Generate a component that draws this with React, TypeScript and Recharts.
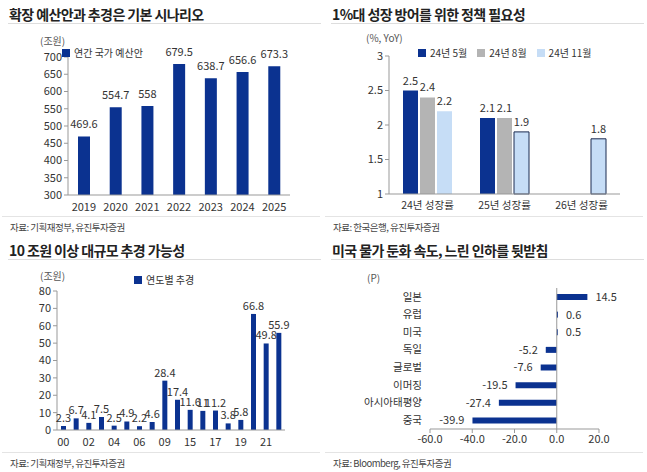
import React from 'react';
import { BarChart, Bar, XAxis, YAxis, Legend, LabelList, Cell, ReferenceLine } from 'recharts';

const NAVY = '#0b3290';
const GREY = '#b4b4b4';
const LIGHT = '#c6ddf6';
const TEXT = '#333';
const AXIS = '#999';
const FONT = "'Noto Sans CJK KR', 'Noto Sans', sans-serif";

// 확장 예산안
const budgetYears = ['2019', '2020', '2021', '2022', '2023', '2024', '2025'];
const budgetValues = [469.6, 554.7, 558, 679.5, 638.7, 656.6, 673.3];

// 성장률 전망
const growthCats = ['24년 성장률', '25년 성장률', '26년 성장률'];
const growthMay = [2.5, 2.1, null];
const growthAug = [2.4, 2.1, null];
const growthNov = [2.2, 1.9, 1.8];

// 연도별 추경
const supYears = ['00', '01', '02', '03', '04', '05', '06', '08', '09', '13', '15', '16', '17', '18', '19', '20', '21', '22'];
const supValues = [2.3, 6.7, 4.1, 7.5, 2.5, 4.9, 2.2, 4.6, 28.4, 17.4, 11.6, 11, 11.2, 3.8, 5.8, 66.8, 49.8, 55.9];

// 물가 둔화
const cpiRegions = ['일본', '유럽', '미국', '독일', '글로벌', '이머징', '아시아태평양', '중국'];
const cpiValues = [14.5, 0.6, 0.5, -5.2, -7.6, -19.5, -27.4, -39.9];

const budgetData = budgetYears.map((y, i) => ({ name: y, v: budgetValues[i] }));
const growthData = growthCats.map((c, i) => ({ name: c, may: growthMay[i], aug: growthAug[i], nov: growthNov[i] }));
const supData = supYears.map((y, i) => ({ name: y, v: supValues[i] }));
const cpiData = cpiRegions.map((r, i) => ({ name: r, v: cpiValues[i] }));

const seriesOrder = ['may', 'aug', 'nov'];

const tick = { fill: TEXT, fontSize: 11, fontFamily: FONT };
const korTick = { fill: TEXT, fontSize: 10.5, fontFamily: FONT };
const lbl = { fill: TEXT, fontSize: 11, fontFamily: FONT };

// legend on top eats this much of the plot, so take it back from margin.top
const LEG_H = 24;

const legendText = (v: string) => <span style={{ color: TEXT, fontSize: 10, fontFamily: FONT }}>{v}</span>;

const Panel = ({ x, y, title, source, unit, unitX, unitY }: any) => (
  <>
    <div style={{ position: 'absolute', left: x + 9, top: y + 4, fontSize: 14, fontWeight: 700, color: '#222', letterSpacing: -0.6, whiteSpace: 'nowrap' }}>
      {title}
    </div>
    <div style={{ position: 'absolute', left: x + 8, top: y + 23, width: 313, height: 1, background: '#ddd' }} />
    <div style={{ position: 'absolute', left: x + 2, top: y + 216, width: 318, height: 1, background: '#e4e4e4' }} />
    <div style={{ position: 'absolute', left: x + 10, top: y + 220, fontSize: 9.5, lineHeight: '14px', color: '#444', letterSpacing: -0.5, whiteSpace: 'nowrap' }}>
      {source}
    </div>
    <div style={{ position: 'absolute', left: x + unitX, top: y + unitY, fontSize: 10, lineHeight: '13px', color: '#555', whiteSpace: 'nowrap' }}>
      {unit}
    </div>
  </>
);

const Box = ({ x, y, children }: any) => (
  <div style={{ position: 'absolute', left: x, top: y }}>{children}</div>
);

export default function App() {
  return (
    <div style={{ position: 'absolute', top: 0, left: 0, width: 647, height: 472, background: '#fff', fontFamily: FONT, overflow: 'hidden' }}>
      <Panel x={0} y={0} title="확장 예산안과 추경은 기본 시나리오" source="자료: 기획재정부, 유진투자증권" unit="(조원)" unitX={40} unitY={34} />
      <Panel x={323} y={0} title="1%대 성장 방어를 위한 정책 필요성" source="자료: 한국은행, 유진투자증권" unit="(%, YoY)" unitX={43} unitY={31} />
      <Panel x={0} y={236} title="10 조원 이상 대규모 추경 가능성" source="자료: 기획재정부, 유진투자증권" unit="(조원)" unitX={40} unitY={33} />
      <Panel x={323} y={236} title="미국 물가 둔화 속도, 느린 인하를 뒷받침" source="자료: Bloomberg, 유진투자증권" unit="(P)" unitX={44} unitY={35} />

      <Box x={0} y={0}>
        <BarChart width={323} height={236} data={budgetData} margin={{ top: 57 - LEG_H, right: 33, bottom: 21, left: 38 }}>
          <XAxis dataKey="name" tick={tick} tickLine={false} stroke={AXIS} height={20} />
          <YAxis domain={[300, 700]} ticks={[300, 350, 400, 450, 500, 550, 600, 650, 700]} interval={0} tick={tick} tickSize={4} stroke={AXIS} width={30} />
          <Legend verticalAlign="top" align="left" iconType="square" iconSize={8} formatter={legendText}
            wrapperStyle={{ top: 38, left: 62, width: 'auto' }} />
          <Bar dataKey="v" name="연간 국가 예산안" fill={NAVY} barSize={12} isAnimationActive={false}>
            <LabelList dataKey="v" position="top" style={lbl} offset={8} />
          </Bar>
        </BarChart>
      </Box>

      <Box x={323} y={0}>
        <BarChart width={324} height={236} data={growthData} margin={{ top: 56 - LEG_H, right: 27, bottom: 22, left: 36 }} barGap={2}>
          <XAxis dataKey="name" tick={korTick} tickLine={false} stroke={AXIS} height={20} />
          <YAxis domain={[1, 3]} ticks={[1, 1.5, 2, 2.5, 3]} interval={0} tick={tick} tickSize={4} stroke={AXIS} width={30} />
          <Legend verticalAlign="top" align="left" iconType="square" iconSize={8} formatter={legendText}
            itemSorter={(it: any) => seriesOrder.indexOf(it.dataKey)}
            wrapperStyle={{ top: 38, left: 95, width: 'auto' }} />
          <Bar dataKey="may" name="24년 5월" fill={NAVY} barSize={15} isAnimationActive={false}>
            <LabelList dataKey="may" position="top" style={lbl} offset={6} />
          </Bar>
          <Bar dataKey="aug" name="24년 8월" fill={GREY} barSize={15} isAnimationActive={false}>
            <LabelList dataKey="aug" position="top" style={lbl} offset={6} />
          </Bar>
          <Bar dataKey="nov" name="24년 11월" fill={LIGHT} barSize={15} isAnimationActive={false}>
            {growthData.map((_, i) => (
              <Cell key={i} stroke={i === 0 ? 'none' : '#1a2a50'} strokeWidth={i === 0 ? 0 : 1} />
            ))}
            <LabelList dataKey="nov" position="top" style={lbl} offset={6} />
          </Bar>
        </BarChart>
      </Box>

      <Box x={0} y={236}>
        <BarChart width={323} height={236} data={supData} margin={{ top: 55 - LEG_H, right: 38, bottom: 22, left: 32 }}>
          <XAxis dataKey="name" tick={tick} tickLine={false} interval={1} stroke={AXIS} height={20} />
          <YAxis domain={[0, 80]} ticks={[0, 10, 20, 30, 40, 50, 60, 70, 80]} interval={0} tick={tick} tickSize={4} stroke={AXIS} width={25} />
          <Legend verticalAlign="top" align="left" iconType="square" iconSize={8} formatter={legendText}
            wrapperStyle={{ top: 29, left: 134, width: 'auto' }} />
          <Bar dataKey="v" name="연도별 추경" fill={NAVY} barSize={5} isAnimationActive={false}>
            <LabelList dataKey="v" position="top" style={lbl} offset={4} />
          </Bar>
        </BarChart>
      </Box>

      <Box x={323} y={236}>
        <BarChart width={324} height={236} data={cpiData} layout="vertical" margin={{ top: 52, right: 48, bottom: 23, left: 9 }}>
          <XAxis type="number" domain={[-60, 20]} ticks={[-60, -40, -20, 0, 20]} interval={0} tickFormatter={(v: number) => v.toFixed(1)}
            tick={tick} tickSize={4} stroke={AXIS} height={20} />
          <YAxis type="category" dataKey="name" tick={korTick} interval={0} axisLine={false} tickLine={false} width={98} />
          <ReferenceLine x={0} stroke={AXIS} />
          <Bar dataKey="v" fill={NAVY} barSize={6} isAnimationActive={false}>
            <LabelList dataKey="v" position="right" style={lbl} offset={8} />
          </Bar>
        </BarChart>
      </Box>
    </div>
  );
}
